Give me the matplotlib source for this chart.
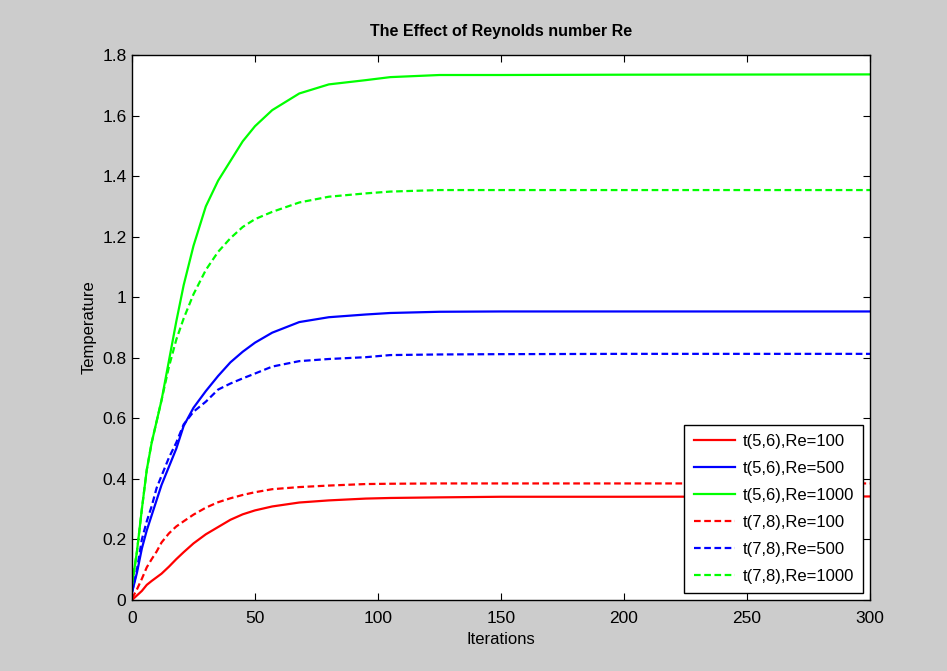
import numpy as np
import matplotlib
matplotlib.use("Agg")
import matplotlib.pyplot as plt

plt.rcParams['font.family'] = ['Liberation Sans', 'DejaVu Sans']

# iteration samples
iters = [0, 2, 4, 6, 8, 10, 12, 15, 18, 21, 25, 30, 35, 40, 45, 50, 57, 68, 80, 95, 105, 125, 150, 200, 300]

# t(5,6)
t56_re100 = [0.0, 0.015, 0.03, 0.05, 0.063, 0.075, 0.087, 0.11, 0.135, 0.158, 0.187, 0.217, 0.241, 0.265,
             0.283, 0.296, 0.309, 0.322, 0.329, 0.335, 0.337, 0.339, 0.341, 0.341, 0.342]
t56_re500 = [0.025, 0.09, 0.17, 0.23, 0.28, 0.33, 0.38, 0.44, 0.50, 0.575, 0.635, 0.69, 0.74, 0.785,
             0.82, 0.85, 0.883, 0.918, 0.934, 0.943, 0.948, 0.952, 0.953, 0.953, 0.953]
t56_re1000 = [0.05, 0.16, 0.30, 0.43, 0.52, 0.59, 0.66, 0.79, 0.92, 1.04, 1.17, 1.30, 1.385, 1.45,
              1.515, 1.565, 1.618, 1.673, 1.703, 1.717, 1.727, 1.734, 1.734, 1.735, 1.736]

# t(7,8)
t78_re100 = [0.005, 0.035, 0.07, 0.108, 0.135, 0.16, 0.19, 0.22, 0.243, 0.26, 0.282, 0.305, 0.323, 0.336,
             0.347, 0.356, 0.366, 0.373, 0.378, 0.383, 0.384, 0.385, 0.385, 0.385, 0.385]
t78_re500 = [0.025, 0.10, 0.20, 0.26, 0.31, 0.37, 0.41, 0.47, 0.52, 0.58, 0.622, 0.655, 0.695, 0.715,
             0.732, 0.748, 0.771, 0.789, 0.796, 0.802, 0.809, 0.811, 0.812, 0.813, 0.813]
t78_re1000 = [0.05, 0.16, 0.30, 0.43, 0.52, 0.59, 0.66, 0.77, 0.86, 0.93, 1.01, 1.09, 1.15, 1.195,
              1.232, 1.258, 1.282, 1.313, 1.332, 1.343, 1.349, 1.354, 1.354, 1.354, 1.354]

labels = ['t(5,6),Re=100', 't(5,6),Re=500', 't(5,6),Re=1000',
          't(7,8),Re=100', 't(7,8),Re=500', 't(7,8),Re=1000']

fig = plt.figure(figsize=(9.47, 6.71), dpi=100, facecolor='#cccccc')
ax = fig.add_axes([0.1394, 0.1058, 0.7793, 0.8122])

dash = (0, (3, 1.6))
ax.plot(iters, t56_re100, color='#ff0000', lw=1.6, label=labels[0])
ax.plot(iters, t56_re500, color='#0000ff', lw=1.6, label=labels[1])
ax.plot(iters, t56_re1000, color='#00ff00', lw=1.6, label=labels[2])
ax.plot(iters, t78_re100, color='#ff0000', lw=1.6, ls=dash, label=labels[3])
ax.plot(iters, t78_re500, color='#0000ff', lw=1.6, ls=dash, label=labels[4])
ax.plot(iters, t78_re1000, color='#00ff00', lw=1.6, ls=dash, label=labels[5])

ax.set_xlim(0, 300)
ax.set_ylim(0, 1.8)
ax.set_xticks(np.arange(0, 301, 50))
ax.set_yticks(np.arange(0, 1.81, 0.2))
ax.set_yticklabels(['0', '0.2', '0.4', '0.6', '0.8', '1', '1.2', '1.4', '1.6', '1.8'])
ax.tick_params(direction='in', top=True, right=True, length=5, width=0.8, labelsize=12.5, pad=4)
ax.tick_params(axis='x', pad=8)
for s in ax.spines.values():
    s.set_linewidth(1.0)

ax.set_title('The Effect of Reynolds number Re', fontsize=11.5, fontweight='bold', pad=14)
ax.set_xlabel('Iterations', fontsize=12, labelpad=4)
ax.set_ylabel('Temperature', fontsize=12, labelpad=4)

leg = ax.legend(loc='lower right', fontsize=12, fancybox=False, edgecolor='black', framealpha=1,
                handlelength=2.5, labelspacing=0.72, borderpad=0.55, handletextpad=0.45,
                borderaxespad=0.4)
leg.get_frame().set_linewidth(1.0)

fig.savefig('out.png', dpi=100, facecolor=fig.get_facecolor())
